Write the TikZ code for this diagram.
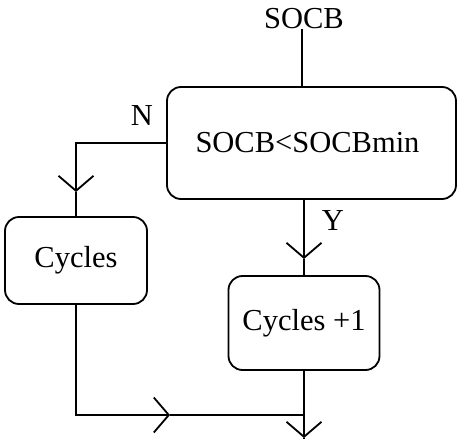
\documentclass[tikz,border=0pt]{standalone}
\usepackage{fontspec}
\setmainfont{Liberation Serif}
\usetikzlibrary{arrows.meta}
\begin{document}
\begin{tikzpicture}[x=1pt,y=-1pt,
  line width=1.8pt,
  every node/.style={font=\fontsize{30.5}{36}\selectfont, inner sep=0pt},
  procbox/.style={draw, rounded corners=14pt, align=center},
  barb/.style={-{Straight Barb[length=15pt,width=35pt]}},
  lbl/.style={}]
  \useasboundingbox (0,0) rectangle (458,439);

  % input signal and decision
  \node[lbl, anchor=base] (src) at (304,28) {SOCB};
  \node[procbox, minimum width=289pt, minimum height=112pt] (dec) at (311.5,143) {SOCB<SOCBmin\hspace*{8pt}};
  \draw (src.south -| 302,0) -- (dec.north -| 302,0);

  % process boxes
  \node[procbox, minimum width=142pt, minimum height=87pt] (cyc) at (76,260.5) {Cycles};
  \node[procbox, minimum width=151pt, minimum height=94pt] (cy1) at (304,323) {Cycles +1};

  % branch labels
  \node[lbl] (nlab) at (142,116) {N};
  \node[lbl] (ylab) at (333,221) {Y};

  % tip positions along the connectors
  \coordinate (ntip) at (76,192);
  \coordinate (ytip) at (304,259);
  \coordinate (join) at (304,415);
  \coordinate (htip) at (170,415);
  \coordinate (out)  at (304,438);

  % N branch
  \draw[barb] (dec.west) -| (ntip);
  \draw (ntip) -- (cyc.north);

  % Y branch
  \draw[barb] (ytip |- dec.south) -- (ytip);
  \draw (ytip) -- (cy1.north);

  % merge and output
  \draw[barb] (cyc.south) |- (htip);
  \draw (htip) -- (join);
  \draw[barb] (cy1.south) -- (out);
  \draw (out) -- (304,439);
\end{tikzpicture}
\end{document}
